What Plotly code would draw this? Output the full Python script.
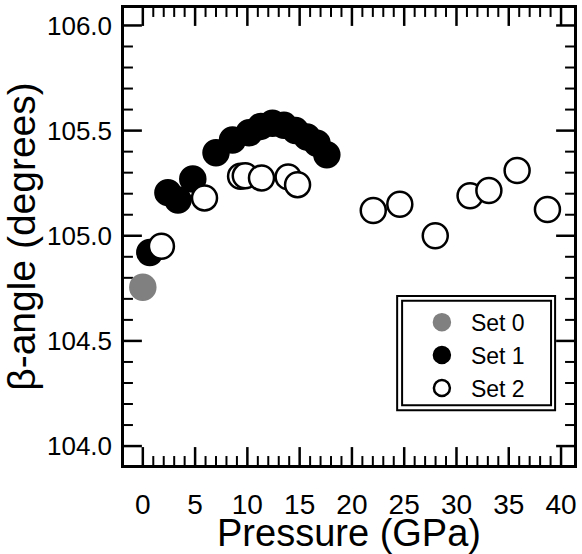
import plotly.graph_objects as go

# Beta angle of the monoclinic cell versus pressure, three data sets
set0_p = [0.0]
set0_beta = [104.755]

set1_p = [0.67, 2.4, 3.36, 4.78, 7.0, 8.58, 10.17, 11.28, 12.4, 13.5, 14.6, 15.7, 16.66, 17.6]
set1_beta = [104.92, 105.205, 105.17, 105.27, 105.395, 105.455, 105.49, 105.52, 105.535,
             105.525, 105.50, 105.47, 105.44, 105.385]

set2_p = [1.78, 5.9, 9.35, 9.8, 11.35, 13.9, 14.8, 22.04, 24.58, 27.97, 31.3, 33.1, 35.8, 38.7]
set2_beta = [104.95, 105.18, 105.283, 105.285, 105.275, 105.28, 105.243, 105.12, 105.15,
             105.00, 105.19, 105.215, 105.31, 105.125]

x_ticks = [0, 5, 10, 15, 20, 25, 30, 35, 40]
x_minor = [v for v in range(0, 41) if v % 5]
y_ticks = [104.0, 104.5, 105.0, 105.5, 106.0]
y_minor = [round(104.0 + 0.1 * i, 1) for i in range(21) if i % 5]
x_range = [-1.8, 41.24]
y_range = [103.91, 106.083]

FONT = "Arial, Liberation Sans, Helvetica, sans-serif"
W, H = 582, 554
MARGIN = dict(l=124, r=5, t=8, b=87)
PLOT_W = W - MARGIN["l"] - MARGIN["r"]
PLOT_H = H - MARGIN["t"] - MARGIN["b"]
MS = 25
MLW = 2.5
MAJOR_LEN, MINOR_LEN = 18, 9
MAJOR_W, MINOR_W = 2.5, 2

fig = go.Figure()


def inward_ticks(values, length, width, along_x):
    """Tick marks pointing into the plot from all four frame edges."""
    xs, ys = [], []
    if along_x:
        d = length * (y_range[1] - y_range[0]) / PLOT_H
        for v in values:
            xs += [v, v, None, v, v, None]
            ys += [y_range[0], y_range[0] + d, None, y_range[1] - d, y_range[1], None]
    else:
        d = length * (x_range[1] - x_range[0]) / PLOT_W
        for v in values:
            ys += [v, v, None, v, v, None]
            xs += [x_range[0], x_range[0] + d, None, x_range[1] - d, x_range[1], None]
    fig.add_trace(go.Scatter(
        x=xs, y=ys, mode="lines", line=dict(color="black", width=width),
        showlegend=False, hoverinfo="skip", cliponaxis=False,
    ))


inward_ticks(x_ticks, MAJOR_LEN, MAJOR_W, True)
inward_ticks(x_minor, MINOR_LEN, MINOR_W, True)
inward_ticks(y_ticks, MAJOR_LEN, MAJOR_W, False)
inward_ticks(y_minor, MINOR_LEN, MINOR_W, False)

fig.add_trace(go.Scatter(
    x=set0_p, y=set0_beta, mode="markers", name="Set 0",
    marker=dict(size=MS, color="#808080", line=dict(color="#808080", width=MLW)),
))
fig.add_trace(go.Scatter(
    x=set1_p, y=set1_beta, mode="markers", name="Set 1",
    marker=dict(size=MS, color="black", line=dict(color="black", width=MLW)),
))
fig.add_trace(go.Scatter(
    x=set2_p, y=set2_beta, mode="markers", name="Set 2",
    marker=dict(size=MS, color="white", line=dict(color="black", width=MLW)),
))

fig.update_xaxes(
    range=x_range, showgrid=False, zeroline=False,
    showline=True, linecolor="black", linewidth=2.5, mirror=True,
    tickmode="array", tickvals=x_ticks, ticktext=[str(v) for v in x_ticks],
    ticks="outside", ticklen=13, tickcolor="rgba(0,0,0,0)",
    tickfont=dict(family=FONT, size=28, color="black"),
    title=dict(text="Pressure (GPa)", font=dict(family=FONT, size=38, color="black"),
               standoff=2),
)
fig.update_yaxes(
    range=y_range, showgrid=False, zeroline=False,
    showline=True, linecolor="black", linewidth=2.5, mirror=True,
    tickmode="array", tickvals=y_ticks, ticktext=[f"{v:.1f}" for v in y_ticks],
    ticks="outside", ticklen=4, tickcolor="rgba(0,0,0,0)",
    tickfont=dict(family=FONT, size=26, color="black"),
    title=dict(text="β-angle (degrees)", font=dict(family=FONT, size=39, color="black"),
               standoff=0),
)

# double-line frame around the legend
frame = dict(type="rect", xref="paper", yref="paper", line=dict(color="black", width=2),
             fillcolor="rgba(0,0,0,0)", layer="above")
fig.add_shape(**frame, x0=0.607, x1=0.958, y0=0.1198, y1=0.370)
fig.add_shape(**frame, x0=0.618, x1=0.949, y0=0.1307, y1=0.3595)

fig.update_layout(
    width=W, height=H,
    margin=MARGIN,
    paper_bgcolor="white", plot_bgcolor="white",
    font=dict(family=FONT, color="black"),
    showlegend=True,
    legend=dict(
        x=0.642, y=0.3595, xanchor="left", yanchor="top",
        bgcolor="rgba(0,0,0,0)", borderwidth=0, itemwidth=48,
        font=dict(family=FONT, size=23, color="black"),
        tracegroupgap=0,
    ),
)

fig.write_html("out.html")
